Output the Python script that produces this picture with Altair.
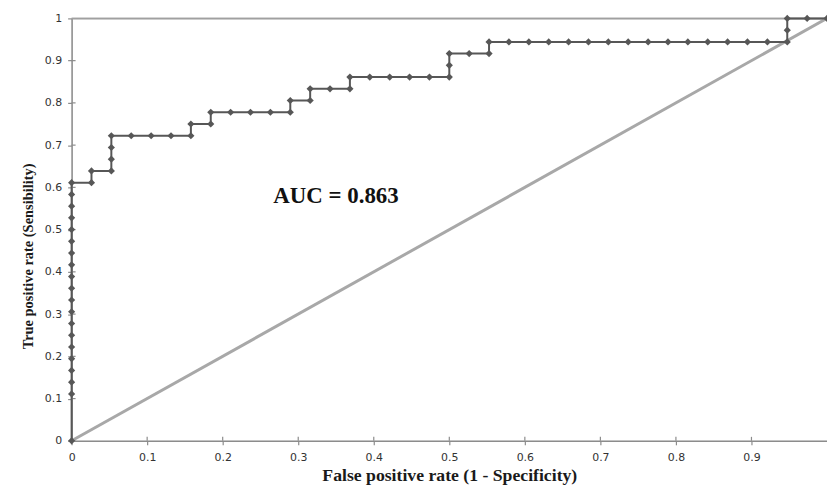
import altair as alt
import pandas as pd

# ROC points (false positive rate, true positive rate)
fpr = [0, 0, 0, 0, 0, 0, 0, 0, 0, 0, 0, 0, 0, 0, 0, 0, 0, 0, 0, 0,
       0.0263, 0.0263, 0.0526, 0.0526, 0.0526, 0.0526,
       0.0789, 0.1053, 0.1316, 0.1579, 0.1579, 0.1842, 0.1842,
       0.2105, 0.2368, 0.2632, 0.2895, 0.2895, 0.3158, 0.3158,
       0.3421, 0.3684, 0.3684, 0.3947, 0.4211, 0.4474, 0.4737, 0.5, 0.5, 0.5,
       0.5263, 0.5526, 0.5526, 0.5789, 0.6053, 0.6316, 0.6579, 0.6842,
       0.7105, 0.7368, 0.7632, 0.7895, 0.8158, 0.8421, 0.8684, 0.8947,
       0.9211, 0.9474, 0.9474, 0.9474, 0.9737, 1.0]
tpr = [0, 0.1111, 0.1389, 0.1667, 0.1944, 0.2222, 0.25, 0.2778, 0.3056,
       0.3333, 0.3611, 0.3889, 0.4167, 0.4444, 0.4722, 0.5, 0.5278, 0.5556,
       0.5833, 0.6111,
       0.6111, 0.6389, 0.6389, 0.6667, 0.6944, 0.7222,
       0.7222, 0.7222, 0.7222, 0.7222, 0.75, 0.75, 0.7778,
       0.7778, 0.7778, 0.7778, 0.7778, 0.8056, 0.8056, 0.8333,
       0.8333, 0.8333, 0.8611, 0.8611, 0.8611, 0.8611, 0.8611, 0.8611, 0.8889, 0.9167,
       0.9167, 0.9167, 0.9444, 0.9444, 0.9444, 0.9444, 0.9444, 0.9444,
       0.9444, 0.9444, 0.9444, 0.9444, 0.9444, 0.9444, 0.9444, 0.9444,
       0.9444, 0.9444, 0.9722, 1.0, 1.0, 1.0]
diag_x = [0, 1]
diag_y = [0, 1]
x_ticks = [0, 0.1, 0.2, 0.3, 0.4, 0.5, 0.6, 0.7, 0.8, 0.9]
y_ticks = [0, 0.1, 0.2, 0.3, 0.4, 0.5, 0.6, 0.7, 0.8, 0.9, 1]
auc_text = "AUC = 0.863"

roc = pd.DataFrame({"fpr": fpr, "tpr": tpr, "i": list(range(len(fpr)))})
diag = pd.DataFrame({"x": diag_x, "y": diag_y})
xt = pd.DataFrame({"t": x_ticks})
yt = pd.DataFrame({"t": y_ticks[:-1]})

W, H = 760, 425
xs = alt.Scale(domain=[0, 1], nice=False, zero=False)
ys = alt.Scale(domain=[0, 1], nice=False, zero=False)

label_font = "DejaVu Sans"
title_font = "Liberation Serif"
axis_col = "#8c8c8c"
ink = "#575757"

x_axis = alt.Axis(values=x_ticks, format="~g", grid=False, domainColor=axis_col,
                  domainWidth=1.5, tickColor=axis_col, tickSize=4, tickWidth=1.2,
                  labelFont=label_font, labelFontSize=11, labelColor="#333333",
                  labelPadding=7, labelFlush=False,
                  title="False positive rate (1 - Specificity)",
                  titleFont=title_font, titleFontSize=17.8, titleFontWeight="bold",
                  titleColor="#1a1a1a", titlePadding=4)
y_axis = alt.Axis(values=y_ticks, format="~g", grid=False, domainColor=axis_col,
                  domainWidth=1.5, tickColor=axis_col, tickSize=4, tickWidth=1.2,
                  labelFont=label_font, labelFontSize=11, labelColor="#333333",
                  labelPadding=6, labelFlush=False,
                  title="True positive rate (Sensibility)",
                  titleFont=title_font, titleFontSize=14.5, titleFontWeight="bold",
                  titleColor="#1a1a1a", titlePadding=9, titleY=239)

diag_layer = alt.Chart(diag).mark_line(color="#a8a8a8", strokeWidth=3).encode(
    x=alt.X("x:Q", scale=xs, axis=x_axis),
    y=alt.Y("y:Q", scale=ys, axis=y_axis),
)

top_rule = alt.Chart(diag).mark_rule(color="#a0a0a0", strokeWidth=1.5).encode(
    y=alt.datum(1, scale=ys)
)

# inner halves of the crossing tick marks
x_in = alt.Chart(xt).mark_rule(color=axis_col, strokeWidth=1.2).encode(
    x=alt.X("t:Q", scale=xs), y=alt.value(H), y2=alt.value(H - 4)
)
y_in = alt.Chart(yt).mark_rule(color=axis_col, strokeWidth=1.2).encode(
    y=alt.Y("t:Q", scale=ys), x=alt.value(0), x2=alt.value(4)
)

line_layer = alt.Chart(roc).mark_line(color=ink, strokeWidth=2).encode(
    x=alt.X("fpr:Q", scale=xs),
    y=alt.Y("tpr:Q", scale=ys),
    order="i:Q",
)
pt_layer = alt.Chart(roc).mark_point(shape="diamond", filled=True, size=52,
                                     color=ink, opacity=1).encode(
    x=alt.X("fpr:Q", scale=xs),
    y=alt.Y("tpr:Q", scale=ys),
)

auc_layer = alt.Chart(pd.DataFrame({"t": [auc_text]})).mark_text(
    font=title_font, fontSize=23, fontWeight="bold", color="#111111",
    align="center", baseline="middle"
).encode(
    x=alt.datum(0.35, scale=xs),
    y=alt.datum(0.58, scale=ys),
    text="t:N",
)

chart = alt.layer(top_rule, diag_layer, x_in, y_in, line_layer, pt_layer,
                  auc_layer).properties(
    width=W, height=H,
    autosize=alt.AutoSizeParams(type="none"),
    padding={"left": 64, "top": 9, "right": 0, "bottom": 46},
).configure_view(stroke=None).configure(background="white")

chart.save("out.html", embed_options={"renderer": "svg", "actions": False})
